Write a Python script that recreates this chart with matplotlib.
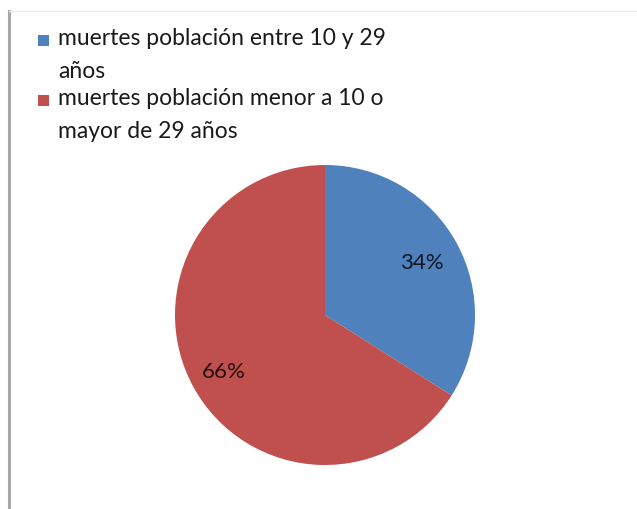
import matplotlib
matplotlib.use("Agg")
import matplotlib.pyplot as plt
from matplotlib.lines import Line2D
from matplotlib.patches import Rectangle
from matplotlib.legend_handler import HandlerPatch
import numpy as np

# Data
categories = ["muertes población entre 10 y 29\naños",
              "muertes población menor a 10 o\nmayor de 29 años"]
values = [34, 66]
colors = ["#4F81BD", "#C0504D"]
label_dist = [0.74, 0.77]

W, H = 637, 510
fig = plt.figure(figsize=(W / 100, H / 100), dpi=100)
fig.patch.set_facecolor("white")

# Frame lines (left border and faint top border)
fig.add_artist(Line2D([9 / W, 9 / W], [0, 1 - 12 / H], transform=fig.transFigure,
                      color="#A6A6A6", lw=2.2))
fig.add_artist(Line2D([9 / W, 1], [1 - 12 / H, 1 - 12 / H], transform=fig.transFigure,
                      color="#EBEBEB", lw=1.0))

# Pie axes: center (325, 316) px, radius 150 px
cx, cy, r = 325, 316, 150
ax = fig.add_axes([(cx - r) / W, (H - cy - r) / H, 2 * r / W, 2 * r / H])
wedges, _ = ax.pie(values, colors=colors, startangle=90, counterclock=False,
                   radius=1.0, wedgeprops=dict(linewidth=0))
ax.set_xlim(-1, 1)
ax.set_ylim(-1, 1)
ax.set_aspect("equal")
ax.axis("off")

# Percentage labels
total = sum(values)
for w, v, d in zip(wedges, values, label_dist):
    ang = np.deg2rad((w.theta1 + w.theta2) / 2)
    ax.text(d * np.cos(ang), d * np.sin(ang), f"{round(100 * v / total)}%",
            ha="center", va="center", fontsize=16, color="black", alpha=0.82,
            family="Lato")


# Legend: small square aligned with the first line of each label
def top_square(legend, orig_handle, xdescent, ydescent, width, height, fontsize):
    return Rectangle((-xdescent, -ydescent + height - width), width, width)


leg = fig.legend(wedges, categories, loc="upper left",
                 bbox_to_anchor=(38 / W, 1 - 28 / H), frameon=False,
                 prop=dict(family="Lato", size=16.5),
                 handler_map={type(wedges[0]): HandlerPatch(patch_func=top_square)},
                 handlelength=0.48, handleheight=2.4, handletextpad=0.4,
                 labelspacing=0.25, borderaxespad=0, borderpad=0)
for t in leg.get_texts():
    t.set_linespacing(1.72)
    t.set_color("#1A1A1A")

fig.savefig("out.png", dpi=100, facecolor="white")
